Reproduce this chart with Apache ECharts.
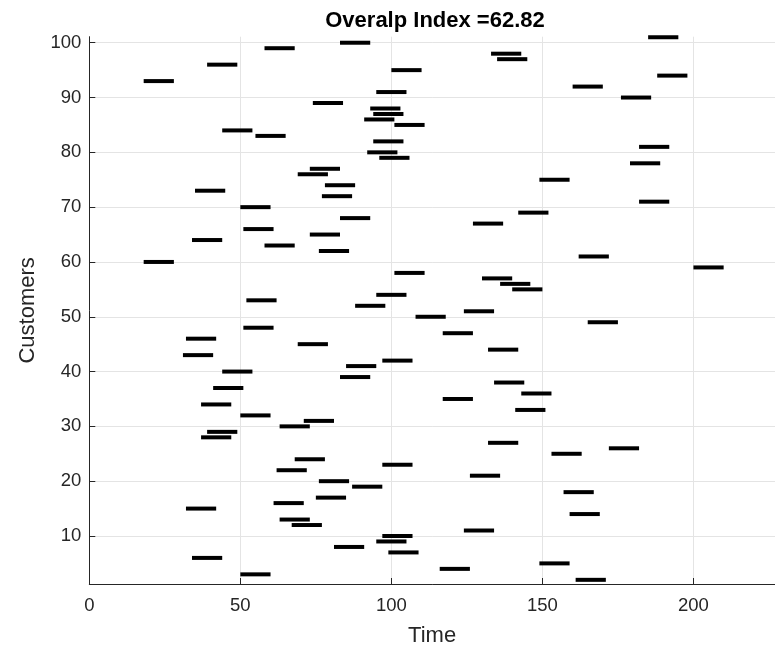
<!DOCTYPE html>
<html><head><meta charset="utf-8">
<script src="https://cdn.jsdelivr.net/npm/echarts@6/dist/echarts.min.js"></script>
<style>html,body{margin:0;padding:0;background:#fff}#c{width:775px;height:649px}</style>
</head><body><div id="c"></div>
<script>
const customers = [2,3,4,5,6,7,8,9,10,11,12,13,14,15,16,17,18,19,20,21,22,23,24,25,26,27,28,29,30,31,32,33,34,35,36,37,38,39,40,41,42,43,44,45,46,47,48,49,50,51,52,53,54,55,56,57,58,59,60,61,62,63,64,65,66,67,68,69,70,71,72,73,74,75,76,77,78,79,80,81,82,83,84,85,86,87,88,89,90,91,92,93,94,95,96,97,98,99,100,101];
const startTimes = [161,50,116,149,34,99,81,95,97,124,67,63,159,32,61,75,157,87,76,126,62,97,68,153,172,132,37,39,63,71,50,141,37,117,143,41,134,83,44,85,97,31,132,69,32,117,51,165,108,124,88,52,95,140,136,130,101,200,18,162,76,58,34,73,51,127,83,142,50,182,77,35,78,149,69,73,179,96,92,182,94,55,44,101,91,94,93,74,176,95,160,18,188,100,39,135,133,58,83,185];
const endTimes = [171,60,126,159,44,109,91,105,107,134,77,73,169,42,71,85,167,97,86,136,72,107,78,163,182,142,47,49,73,81,60,151,47,127,153,51,144,93,54,95,107,41,142,79,42,127,61,175,118,134,98,62,105,150,146,140,111,210,28,172,86,68,44,83,61,137,93,152,60,192,87,45,88,159,79,83,189,106,102,192,104,65,54,111,101,104,103,84,186,105,170,28,198,110,49,145,143,68,93,195];
const xTickValues = [0,50,100,150,200];
const yTickValues = [10,20,30,40,50,60,70,80,90,100];
const titleText = 'Overalp Index =62.82';
const xName = 'Time';
const yName = 'Customers';

const barData = customers.map((c, i) => [startTimes[i], endTimes[i], c]);
const axisColor = '#262626';
const font = 'Liberation Sans, Arial, sans-serif';

const chart = echarts.init(document.getElementById('c'), null, {renderer: 'canvas'});
chart.setOption({
  animation: false,
  backgroundColor: '#fff',
  title: {
    text: titleText, left: 430, top: 5, textAlign: 'center',
    textStyle: {fontFamily: font, fontSize: 22, fontWeight: 'bold', color: '#000'}
  },
  grid: {left: 89.3, right: 0, top: 36.7, bottom: 65, containLabel: false, outerBoundsMode: 'none'},
  xAxis: {
    type: 'value', min: 0, max: 227,
    name: xName, nameLocation: 'middle', nameGap: 41,
    nameTextStyle: {fontFamily: font, fontSize: 22, color: axisColor},
    axisLine: {show: true, onZero: false, lineStyle: {color: axisColor, width: 1}},
    axisTick: {show: true, inside: true, length: 6, customValues: xTickValues, lineStyle: {color: axisColor}},
    axisLabel: {customValues: xTickValues, fontFamily: font, fontSize: 18.5, color: axisColor, margin: 12},
    splitLine: {show: true, lineStyle: {color: '#e4e4e4', width: 1}}
  },
  yAxis: {
    type: 'value', min: 1.24, max: 101.1,
    name: yName, nameLocation: 'middle', nameGap: 50, nameRotate: 90,
    nameTextStyle: {fontFamily: font, fontSize: 22, color: axisColor},
    axisLine: {show: true, onZero: false, lineStyle: {color: axisColor, width: 1}},
    axisTick: {show: true, inside: true, length: 6, customValues: yTickValues, lineStyle: {color: axisColor}},
    axisLabel: {customValues: yTickValues, fontFamily: font, fontSize: 18.5, color: axisColor, margin: 8},
    splitLine: {show: true, lineStyle: {color: '#e4e4e4', width: 1}}
  },
  series: [{
    type: 'custom',
    clip: false,
    data: barData,
    encode: {x: [0, 1], y: 2},
    renderItem: function (params, api) {
      const p0 = api.coord([api.value(0), api.value(2)]);
      const p1 = api.coord([api.value(1), api.value(2)]);
      const h = 4;
      return {
        type: 'rect',
        shape: {x: p0[0], y: p0[1] - h / 2, width: p1[0] - p0[0], height: h},
        style: {fill: '#000'}
      };
    }
  }]
});
</script>
</body></html>
